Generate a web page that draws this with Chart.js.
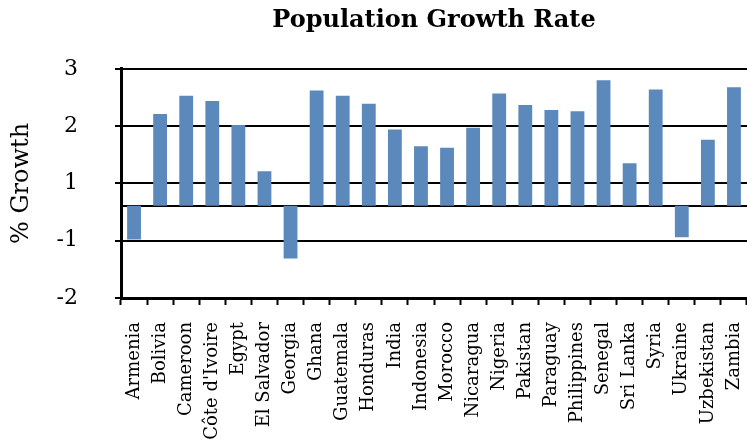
<!DOCTYPE html>
<html>
<head>
<meta charset="utf-8">
<title>Population Growth Rate</title>
<script src="https://cdn.jsdelivr.net/npm/chart.js@4/dist/chart.umd.min.js"></script>
<style>
  html, body { margin: 0; padding: 0; background: #ffffff; }
  canvas { display: block; }
</style>
</head>
<body>
<canvas id="chart" width="747" height="445"></canvas>
<script>
// Countries along the category axis
const countries = [
  'Armenia', 'Bolivia', 'Cameroon', "Côte d'Ivoire", 'Egypt', 'El Salvador',
  'Georgia', 'Ghana', 'Guatemala', 'Honduras', 'India', 'Indonesia',
  'Morocco', 'Nicaragua', 'Nigeria', 'Pakistan', 'Paraguay', 'Philippines',
  'Senegal', 'Sri Lanka', 'Syria', 'Ukraine', 'Uzbekistan', 'Zambia'
];

// Annual population growth, % (as read against the axis labels)
const growth = [
  -0.98, 2.21, 2.53, 2.44, 2.02, 1.21,
  -1.31, 2.62, 2.53, 2.39, 1.94, 1.65,
  1.62, 1.97, 2.57, 2.37, 2.28, 2.26,
  2.80, 1.35, 2.64, -0.94, 1.76, 2.68
];

// The value axis has evenly spaced steps labelled 3, 2, 1, -1, -2 (no 0 step)
const tickLabels = ['3', '2', '1', '-1', '-2'];
const tickSteps = [3, 2, 1, 0, -1];

// Axis position of the line the bars grow from
const baseLevel = 0.61;

// Negative values sit one step lower on the axis because the 0 step is skipped
function toAxis(v) {
  return v < 0 ? v + 1 : v;
}

const SERIF = '"DejaVu Serif", "Liberation Serif", serif';

new Chart(document.getElementById('chart'), {
  type: 'bar',
  data: {
    labels: countries,
    datasets: [{
      label: '% Growth',
      data: growth.map(v => [baseLevel, toAxis(v)]),
      backgroundColor: '#5b89bc',
      borderWidth: 0,
      categoryPercentage: 1,
      barPercentage: 0.53
    }]
  },
  options: {
    responsive: false,
    devicePixelRatio: 1,
    animation: false,
    layout: { padding: { left: 0, right: 0, top: 0, bottom: 0 } },
    plugins: {
      legend: { display: false },
      tooltip: { enabled: false },
      title: {
        display: true,
        fullSize: false,
        align: 'center',
        text: 'Population Growth Rate',
        color: '#000',
        font: { family: SERIF, size: 24, weight: 'bold' },
        padding: { top: 6, bottom: 34 }
      }
    },
    scales: {
      x: {
        grid: {
          drawOnChartArea: false,
          drawTicks: true,
          offset: true,
          tickLength: 7,
          tickWidth: 2,
          tickColor: '#000'
        },
        border: { display: true, color: '#000', width: 3 },
        ticks: {
          autoSkip: false,
          minRotation: 90,
          maxRotation: 90,
          color: '#000',
          padding: 17,
          font: { family: SERIF, size: 18 }
        },
        afterFit: scale => {
          scale.height = 147;
          // let the plot run right up to the canvas edge
          scale.paddingLeft = 0;
          scale.paddingRight = 0;
        }
      },
      y: {
        min: -1,
        max: 3,
        afterBuildTicks: scale => {
          scale.ticks = [-1, 0, baseLevel, 1, 2, 3].map(v => ({ value: v }));
        },
        grid: {
          color: '#000',
          lineWidth: 2,
          drawTicks: true,
          tickLength: 6,
          tickWidth: 2,
          tickColor: ctx => (ctx.tick && ctx.tick.value === baseLevel) ? 'rgba(0,0,0,0)' : '#000'
        },
        border: { display: true, color: '#000', width: 3 },
        ticks: {
          autoSkip: false,
          color: '#000',
          padding: 37,
          font: { family: SERIF, size: 22 },
          callback: value => {
            const i = tickSteps.indexOf(value);
            return i >= 0 ? tickLabels[i] : '';
          }
        },
        title: {
          display: true,
          text: '% Growth',
          color: '#000',
          font: { family: SERIF, size: 24 },
          padding: { top: 7, bottom: 0 }
        },
        afterFit: scale => { scale.width = 121; }
      }
    }
  }
});
</script>
</body>
</html>
